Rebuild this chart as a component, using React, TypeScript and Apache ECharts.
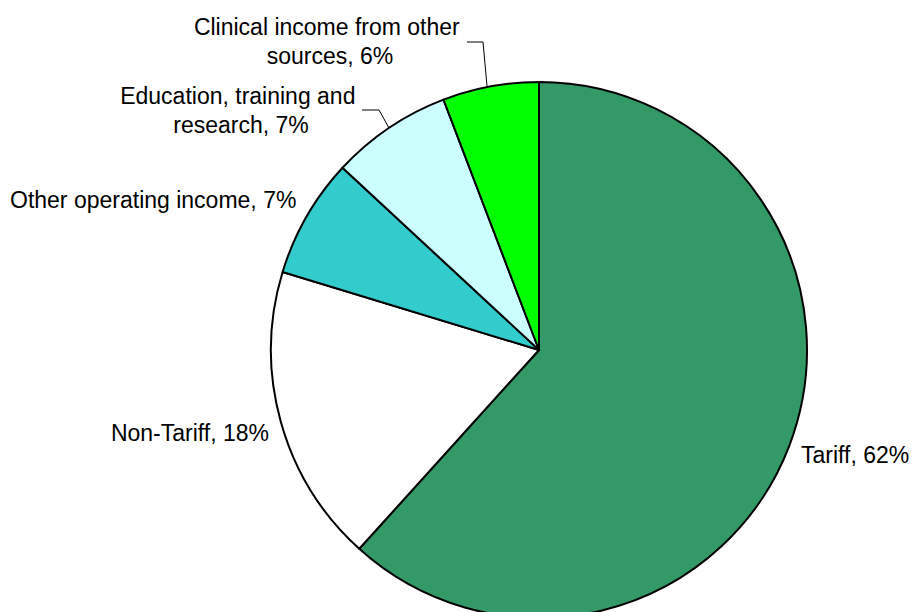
import React, { useEffect, useRef } from "react";
import * as echarts from "echarts";

const categories = [
  "Tariff",
  "Non-Tariff",
  "Other operating income",
  "Education, training and research",
  "Clinical income from other sources",
];
const values = [61.7, 18.0, 7.2, 7.3, 5.8];
const colors = ["#339966", "#FFFFFF", "#33CCCC", "#CCFFFF", "#00FF00"];

export default function App() {
  const ref = useRef<HTMLDivElement>(null);
  useEffect(() => {
    if (!ref.current) return;
    const chart = echarts.init(ref.current, null, { renderer: "svg" });
    const layouts: any[] = [
      { x: 801, y: 455, align: "left", verticalAlign: "middle" },
      { x: 269, y: 433, align: "right", verticalAlign: "middle" },
      { x: 10, y: 200, align: "left", verticalAlign: "middle" },
      {
        x: 241,
        y: 110,
        align: "center",
        verticalAlign: "middle",
        labelLinePoints: [
          [389, 128],
          [379, 110],
          [362, 110],
        ],
      },
      {
        x: 330,
        y: 41,
        align: "center",
        verticalAlign: "middle",
        labelLinePoints: [
          [487, 86],
          [483, 42],
          [467, 42],
        ],
      },
    ];
    const wrapWidths = [0, 0, 0, 280, 300];
    chart.setOption({
      animation: false,
      backgroundColor: "#ffffff",
      series: [
        {
          type: "pie",
          center: [539, 350],
          radius: 268,
          startAngle: 90,
          clockwise: true,
          avoidLabelOverlap: false,
          itemStyle: { borderColor: "#000000", borderWidth: 2 },
          emphasis: { disabled: true },
          label: {
            show: true,
            position: "outside",
            color: "#000000",
            fontFamily: "Liberation Sans, Arial, sans-serif",
            fontSize: 23,
            lineHeight: 29,
            formatter: (p: any) => `${p.name}, ${Math.round(p.value)}%`,
          },
          labelLine: {
            show: true,
            lineStyle: { color: "#000000", width: 1 },
          },
          labelLayout: (params: any) => layouts[params.dataIndex],
          data: categories.map((name, i) => {
            const item: any = {
              name,
              value: values[i],
              itemStyle: { color: colors[i] },
            };
            if (wrapWidths[i] > 0) {
              item.label = { width: wrapWidths[i], overflow: "break", align: "center" };
            } else {
              item.labelLine = { show: false };
            }
            return item;
          }),
        },
      ],
    });
    return () => chart.dispose();
  }, []);
  return (
    <div
      ref={ref}
      style={{ position: "fixed", left: 0, top: 0, width: 912, height: 612 }}
    />
  );
}
